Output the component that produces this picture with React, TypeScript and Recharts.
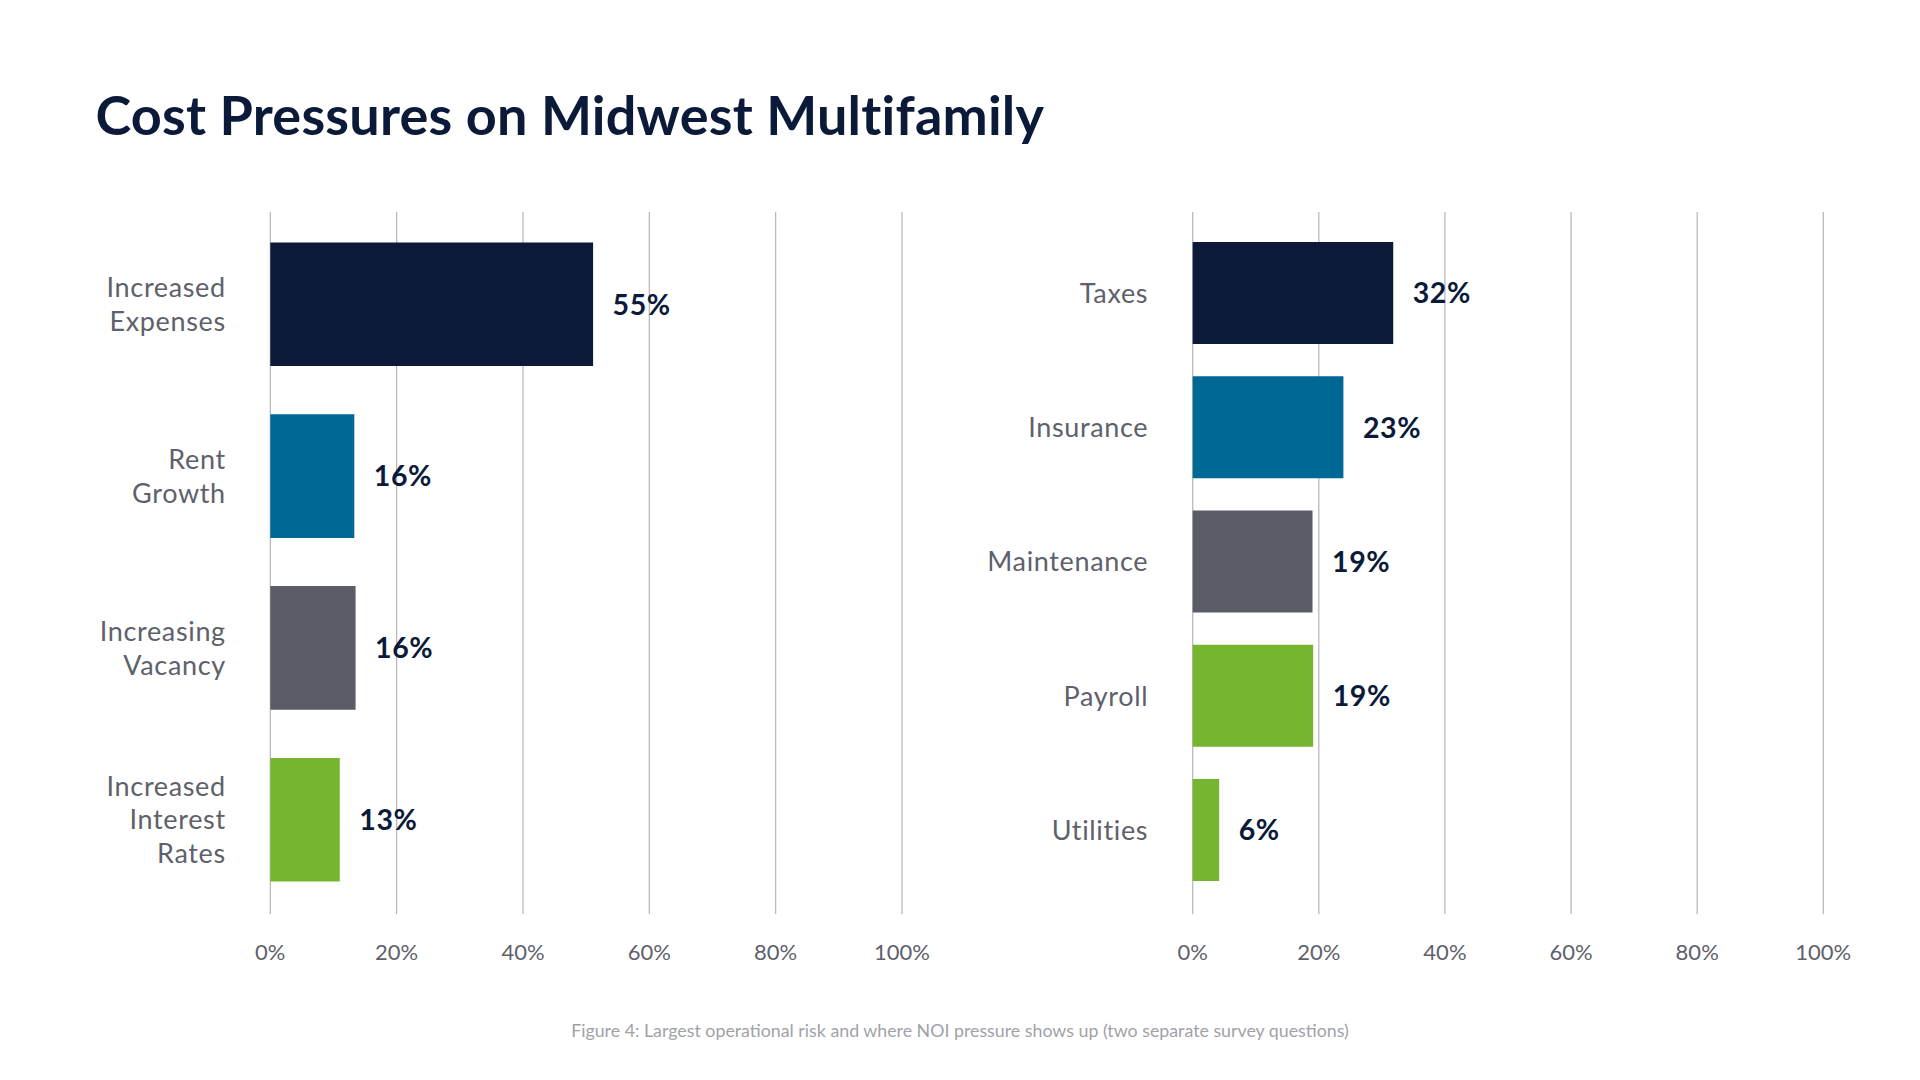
import React from "react";
import { BarChart, Bar, XAxis, YAxis, CartesianGrid, Cell, LabelList } from "recharts";

const title = "Cost Pressures on Midwest Multifamily";
const footnote = "Figure 4: Largest operational risk and where NOI pressure shows up (two separate survey questions)";

const leftCategories = ["Increased Expenses", "Rent Growth", "Increasing Vacancy", "Increased Interest Rates"];
const leftValues = [51.1, 13.3, 13.5, 11.0];
const leftLabels = ["55%", "16%", "16%", "13%"];
const leftColors = ["#0b1a38", "#006894", "#5a5c66", "#76b52f"];

const rightCategories = ["Taxes", "Insurance", "Maintenance", "Payroll", "Utilities"];
const rightValues = [31.8, 23.9, 19.0, 19.1, 4.2];
const rightLabels = ["32%", "23%", "19%", "19%", "6%"];
const rightColors = ["#0b1a38", "#006894", "#5a5c66", "#76b52f", "#76b52f"];

const xTicks = [0, 20, 40, 60, 80, 100];

const FONT = "Lato, 'Open Sans', sans-serif";
const NAVY = "#0b1a38";
const LABEL_GRAY = "#5e616b";
const GRID = "#b4b4ba";

const leftData = leftCategories.map((name, i) => ({ name, value: leftValues[i], label: leftLabels[i] }));
const rightData = rightCategories.map((name, i) => ({ name, value: rightValues[i], label: rightLabels[i] }));

const CategoryTick = (props: any) => {
  const { x, y, payload } = props;
  const lines = String(payload.value).split(" ");
  const lh = 33.7;
  const n = lines.length;
  return (
    <text
      x={x - 44.5}
      y={y}
      textAnchor="end"
      fill={LABEL_GRAY}
      fontFamily={FONT}
      fontSize={27}
      letterSpacing={0.65}
    >
      {lines.map((l, i) => (
        <tspan key={i} x={x - 44.5} y={y + (i - (n - 1) / 2) * lh + 9.7}>
          {l}
        </tspan>
      ))}
    </text>
  );
};

const PercentTick = (props: any) => {
  const { x, y, payload } = props;
  return (
    <text x={x} y={y + 46} textAnchor="middle" fill={LABEL_GRAY} fontFamily={FONT} fontSize={22}>
      {payload.value}%
    </text>
  );
};

const makeValueLabel = (labels: string[]) => (props: any) => {
  const { x, y, width, height, index } = props;
  return (
    <text
      x={x + width + 19.5}
      y={y + height / 2 + 10.3}
      fill={NAVY}
      fontFamily={FONT}
      fontWeight={700}
      fontSize={28.5}
      letterSpacing={0.6}
    >
      {labels[index]}
    </text>
  );
};

type PanelProps = {
  data: { name: string; value: number; label: string }[];
  colors: string[];
  labels: string[];
  left: number;
  yAxisWidth: number;
  marginRight: number;
  padTop: number;
  padBottom: number;
  barSize: number;
};

const Panel = ({ data, colors, labels, left, yAxisWidth, marginRight, padTop, padBottom, barSize }: PanelProps) => (
  <div style={{ position: "absolute", left, top: 0 }}>
    <BarChart
      width={960}
      height={1080}
      data={data}
      layout="vertical"
      margin={{ top: 212, right: marginRight, bottom: 106, left: 0 }}
    >
      <CartesianGrid horizontal={false} vertical={true} stroke={GRID} strokeWidth={1.2} />
      <XAxis
        type="number"
        domain={[0, 100]}
        ticks={xTicks}
        axisLine={false}
        tickLine={false}
        tickSize={0}
        tickMargin={0}
        height={60}
        interval={0}
        tick={(p: any) => <PercentTick {...p} />}
      />
      <YAxis
        type="category"
        dataKey="name"
        width={yAxisWidth}
        axisLine={false}
        tickLine={false}
        tickSize={0}
        tickMargin={0}
        interval={0}
        padding={{ top: padTop, bottom: padBottom }}
        tick={(p: any) => <CategoryTick {...p} />}
      />
      <Bar dataKey="value" barSize={barSize} isAnimationActive={false}>
        {data.map((d, i) => (
          <Cell key={d.name} fill={colors[i]} />
        ))}
        <LabelList dataKey="label" content={makeValueLabel(labels)} />
      </Bar>
    </BarChart>
  </div>
);

export default function App() {
  return (
    <div
      style={{
        position: "absolute",
        left: 0,
        top: 0,
        width: 1920,
        height: 1080,
        background: "#ffffff",
        overflow: "hidden",
        fontFamily: FONT,
      }}
    >
      <svg width={1920} height={1080} style={{ position: "absolute", left: 0, top: 0 }}>
        <text
          x={95.5}
          y={134.5}
          fill={NAVY}
          fontFamily={FONT}
          fontWeight={700}
          fontSize={54}
          letterSpacing={0.2}
        >
          {title}
        </text>
        <text x={960} y={1036.5} textAnchor="middle" fill="#a0a2a8" fontFamily={FONT} fontSize={17.8}>
          {footnote}
        </text>
      </svg>
      <Panel
        data={leftData}
        colors={leftColors}
        labels={leftLabels}
        left={0}
        yAxisWidth={270.3}
        marginRight={58}
        padTop={6.4}
        padBottom={8.3}
        barSize={123.7}
      />
      <Panel
        data={rightData}
        colors={rightColors}
        labels={rightLabels}
        left={960}
        yAxisWidth={232.7}
        marginRight={96.7}
        padTop={14}
        padBottom={16.6}
        barSize={102}
      />
    </div>
  );
}
